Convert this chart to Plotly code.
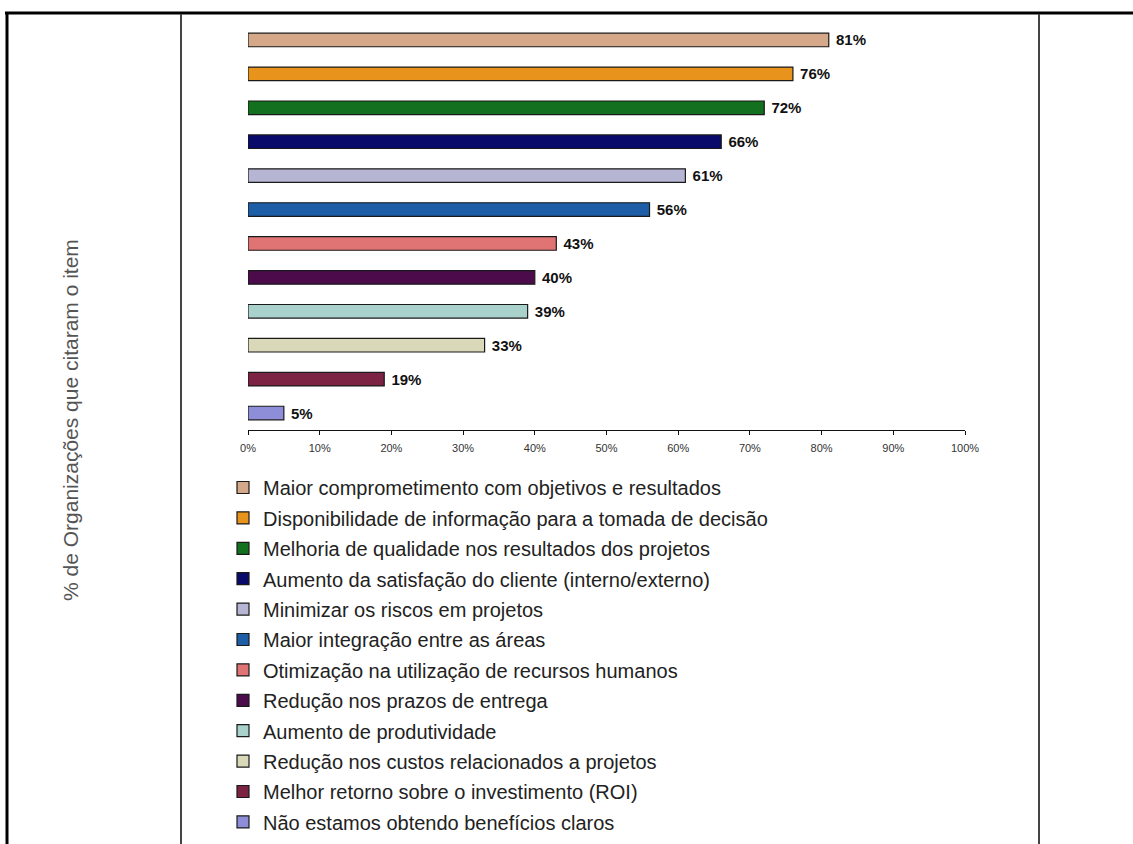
import plotly.graph_objects as go

categories = [
    "Maior comprometimento com objetivos e resultados",
    "Disponibilidade de informação para a tomada de decisão",
    "Melhoria de qualidade nos resultados dos projetos",
    "Aumento da satisfação do cliente (interno/externo)",
    "Minimizar os riscos em projetos",
    "Maior integração entre as áreas",
    "Otimização na utilização de recursos humanos",
    "Redução nos prazos de entrega",
    "Aumento de produtividade",
    "Redução nos custos relacionados a projetos",
    "Melhor retorno sobre o investimento (ROI)",
    "Não estamos obtendo benefícios claros",
]
values = [81, 76, 72, 66, 61, 56, 43, 40, 39, 33, 19, 5]
colors = ["#D6A88A", "#E8931C", "#12701E", "#0A0A6A", "#B6B6D4", "#1E5EA6",
          "#E07474", "#4C0C4C", "#A9D2CD", "#D9D9BA", "#7C2242", "#8E8ED8"]
tick_vals = [0, 10, 20, 30, 40, 50, 60, 70, 80, 90, 100]
tick_text = ["0%", "10%", "20%", "30%", "40%", "50%", "60%", "70%", "80%", "90%", "100%"]

W, H = 1133, 844
L, R_px, T, B_px = 248, 965, 23, 430
PW, PH = R_px - L, B_px - T

def px_x(p):
    return (p - L) / PW

def px_y(p):
    return (B_px - p) / PH

fig = go.Figure()
for i, (c, v, col) in enumerate(zip(categories, values, colors)):
    fig.add_trace(go.Bar(
        y=[c], x=[v], orientation="h", name=c, legendgroup=f"g{i}",
        marker=dict(color=col, line=dict(color="#1a1a1a", width=1.2)),
        width=0.4,
        text=["\u00a0<b>" + str(v) + "%</b>"], textposition="outside",
        constraintext="none", hoverinfo="x+name",
        textfont=dict(family="Liberation Sans, Arial", size=15, color="#111"),
        cliponaxis=False,
    ))

fig.update_layout(
    width=W, height=H,
    margin=dict(l=L, r=W - R_px, t=T, b=H - B_px, autoexpand=False),
    paper_bgcolor="white", plot_bgcolor="white",
    barmode="overlay",
    showlegend=True,
    legend=dict(
        x=px_x(223), y=px_y(468), xanchor="left", yanchor="top",
        font=dict(family="Liberation Sans, Arial", size=20, color="#222"),
        tracegroupgap=1.4, itemwidth=30, bgcolor="rgba(0,0,0,0)",
    ),
    xaxis=dict(
        range=[0, 100], tickvals=tick_vals, ticktext=tick_text,
        showgrid=False, zeroline=False, showline=True, linecolor="#111", linewidth=1,
        ticks="outside", ticklen=4, tickcolor="#111", ticklabelstandoff=4,
        tickfont=dict(family="Liberation Sans Narrow, Liberation Sans, Arial", size=11, color="#333"),
    ),
    yaxis=dict(
        categoryorder="array", categoryarray=categories[::-1],
        showticklabels=False, showgrid=False, zeroline=False, showline=False, ticks="",
    ),
    font=dict(family="Liberation Sans, Arial"),
)

fig.add_annotation(
    text="% de Organizações que citaram o item", textangle=-90,
    xref="paper", yref="paper", x=px_x(70), y=px_y(420),
    xanchor="center", yanchor="middle", showarrow=False,
    font=dict(family="Liberation Sans, Arial", size=21, color="#555"),
)

# frame lines
fig.add_shape(type="line", xref="paper", yref="paper", x0=px_x(5), x1=px_x(1140),
              y0=px_y(13), y1=px_y(13), line=dict(color="black", width=3))
fig.add_shape(type="line", xref="paper", yref="paper", x0=px_x(7), x1=px_x(7),
              y0=px_y(12), y1=px_y(850), line=dict(color="black", width=3))
fig.add_shape(type="line", xref="paper", yref="paper", x0=px_x(181), x1=px_x(181),
              y0=px_y(14), y1=px_y(850), line=dict(color="#444", width=2))
fig.add_shape(type="line", xref="paper", yref="paper", x0=px_x(1039), x1=px_x(1039),
              y0=px_y(14), y1=px_y(850), line=dict(color="#444", width=2))

fig.write_html("out.html")
